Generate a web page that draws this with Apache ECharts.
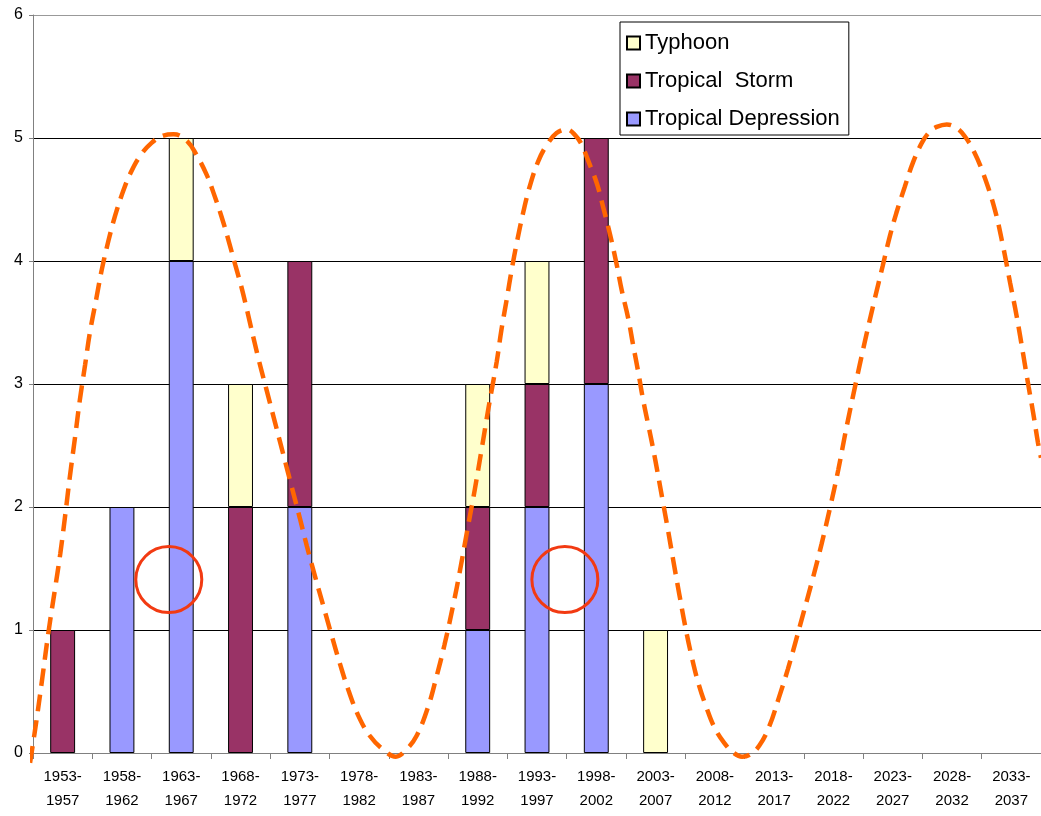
<!DOCTYPE html>
<html><head><meta charset="utf-8">
<script src="https://cdn.jsdelivr.net/npm/echarts@6/dist/echarts.min.js"></script>
<style>html,body{margin:0;padding:0;background:#fff}#c{width:1041px;height:816px}</style>
</head><body><div id="c"></div>
<script>
const categories = ['1953-\n1957','1958-\n1962','1963-\n1967','1968-\n1972','1973-\n1977','1978-\n1982','1983-\n1987','1988-\n1992','1993-\n1997','1998-\n2002','2003-\n2007','2008-\n2012','2013-\n2017','2018-\n2022','2023-\n2027','2028-\n2032','2033-\n2037'];
const depression = [0,2,4,0,2,0,0,1,2,3,0,0,0,0,0,0,0];
const storm      = [1,0,0,2,2,0,0,1,1,2,0,0,0,0,0,0,0];
const typhoon    = [0,0,1,1,0,0,0,1,1,0,1,0,0,0,0,0,0];
const yTicks = [0,1,2,3,4,5,6];

// hand-drawn dashed trend curve (x in category units, y in counts)
const trendX = [-0.05,0.06,0.16,0.26,0.37,0.46,0.54,0.62,0.71,0.79,0.88,0.96,1.07,1.16,1.27,1.38,1.50,1.64,1.80,2.00,2.20,2.37,2.59,2.76,2.93,3.04,3.18,3.29,3.41,3.52,3.60,3.80,3.94,4.08,4.22,4.36,4.50,4.62,4.76,4.90,5.04,5.18,5.32,5.49,5.68,5.90,6.12,6.30,6.47,6.66,6.80,6.94,7.09,7.20,7.32,7.45,7.57,7.68,7.82,7.90,7.99,8.07,8.16,8.27,8.38,8.52,8.66,8.83,9.00,9.15,9.25,9.36,9.51,9.62,9.73,9.84,9.93,10.04,10.12,10.21,10.29,10.38,10.46,10.53,10.62,10.71,10.80,10.90,11.00,11.11,11.22,11.35,11.49,11.66,11.82,11.96,12.10,12.25,12.42,12.58,12.73,12.87,13.00,13.13,13.30,13.44,13.58,13.70,13.82,13.94,14.06,14.20,14.33,14.45,14.56,14.70,14.84,14.99,15.12,15.24,15.41,15.58,15.72,15.86,16.02,16.22,16.36,16.48,16.59,16.70,16.79,16.87,16.95,17.00];
const trendY = [-0.08,0.27,0.62,0.98,1.33,1.62,1.92,2.24,2.57,2.87,3.16,3.42,3.70,3.93,4.16,4.36,4.54,4.71,4.85,4.96,5.02,5.03,4.98,4.86,4.70,4.56,4.36,4.18,3.97,3.78,3.62,3.21,2.95,2.69,2.43,2.17,1.91,1.68,1.43,1.19,0.95,0.72,0.51,0.30,0.14,0.03,-0.03,0.03,0.14,0.37,0.61,0.88,1.21,1.48,1.80,2.14,2.48,2.80,3.18,3.44,3.69,3.92,4.15,4.40,4.61,4.81,4.94,5.04,5.07,5.02,4.95,4.82,4.63,4.43,4.22,3.98,3.76,3.53,3.32,3.09,2.87,2.66,2.47,2.29,2.05,1.81,1.56,1.29,1.03,0.78,0.57,0.38,0.21,0.08,0.00,-0.03,-0.01,0.06,0.22,0.45,0.68,0.92,1.15,1.38,1.70,1.99,2.30,2.60,2.88,3.15,3.41,3.70,3.96,4.20,4.39,4.60,4.80,4.96,5.05,5.09,5.11,5.08,5.01,4.90,4.72,4.42,4.12,3.82,3.55,3.24,2.98,2.76,2.52,2.40];

// highlighted circles
const circleX = [2.29, 8.97];
const circleY = [1.41, 1.41];

const chart = echarts.init(document.getElementById('c'), null, {renderer:'canvas'});
const FONT = 'Liberation Sans, Arial, sans-serif';
const barStyle = c => ({color:c, borderColor:'#000', borderWidth:1});
const nz = arr => arr.map(v => v === 0 ? '-' : v);
chart.setOption({
  animation:false,
  backgroundColor:'#fff',
  grid:{left:33, right:0, top:15, bottom:63, containLabel:false},
  legend:{
    orient:'vertical', left:620, top:22,
    data:['Typhoon','Tropical  Storm','Tropical Depression'],
    itemWidth:13, itemHeight:13, itemGap:16,
    padding:[10,9,5,6],
    borderColor:'#000', borderWidth:1,
    backgroundColor:'#fff',
    textStyle:{fontFamily:FONT, fontSize:22, color:'#000'},
    icon:'rect'
  },
  xAxis:[
    {type:'category', data:categories, boundaryGap:true,
     axisLine:{lineStyle:{color:'#808080', width:1}},
     axisTick:{show:true, length:6, lineStyle:{color:'#808080'}},
     axisLabel:{fontFamily:FONT, fontSize:15, color:'#000', lineHeight:24, margin:12, interval:0}},
    {type:'value', min:0, max:17, show:false}
  ],
  yAxis:{
    type:'value', min:yTicks[0], max:yTicks[yTicks.length-1], interval:1,
    axisLine:{show:true, lineStyle:{color:'#808080', width:1}},
    axisTick:{show:true, length:4, lineStyle:{color:'#808080'}},
    axisLabel:{fontFamily:FONT, fontSize:16, color:'#000', margin:10},
    splitLine:{lineStyle:{color:['#000','#000','#000','#000','#000','#000','#999'], width:1}}
  },
  series:[
    {name:'Tropical Depression', type:'bar', stack:'a', data:nz(depression), barWidth:'42%', itemStyle:barStyle('#9999FF')},
    {name:'Tropical  Storm', type:'bar', stack:'a', data:nz(storm), barWidth:'42%', itemStyle:barStyle('#993366')},
    {name:'Typhoon', type:'bar', stack:'a', data:nz(typhoon), barWidth:'42%', itemStyle:barStyle('#FFFFCC')},
    {type:'line', xAxisIndex:1, data:trendX.map((x,i)=>[x,trendY[i]]), smooth:0.4, symbol:'none', clip:false, silent:true,
     lineStyle:{color:'#FF6600', width:4.5, type:[17,9]}, z:5},
    {type:'scatter', xAxisIndex:1, data:circleX.map((x,i)=>[x,circleY[i]]), symbol:'circle', symbolSize:66, silent:true,
     itemStyle:{color:'rgba(0,0,0,0)', borderColor:'#F23A12', borderWidth:3, opacity:1}, z:6}
  ]
});
</script></body></html>
